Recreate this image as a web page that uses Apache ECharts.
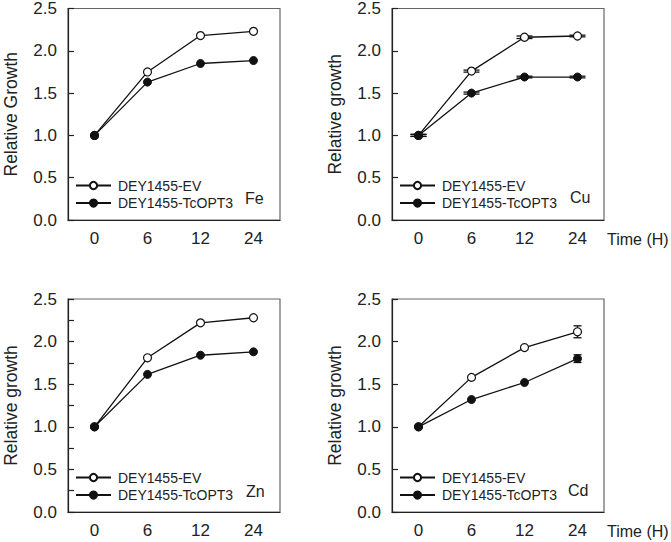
<!DOCTYPE html>
<html>
<head>
<meta charset="utf-8">
<script src="https://cdn.jsdelivr.net/npm/echarts@6/dist/echarts.min.js"></script>
<style>
html,body{margin:0;padding:0;background:#fff;}
#chart{width:671px;height:542px;}
</style>
</head>
<body>
<div id="chart"></div>
<script>
// ---- data ----
const categories = ['0', '6', '12', '24'];
const seriesNames = ['DEY1455-EV', 'DEY1455-TcOPT3'];
const panelLabels = ['Fe', 'Cu', 'Zn', 'Cd'];
const yTitles = ['Relative Growth', 'Relative growth', 'Relative growth', 'Relative growth'];

const feEV  = [1.0, 1.75, 2.18, 2.23];
const feOPT = [1.0, 1.63, 1.85, 1.885];
const cuEV  = [1.0, 1.76, 2.16, 2.175];
const cuOPT = [1.0, 1.50, 1.69, 1.69];
const znEV  = [1.0, 1.81, 2.22, 2.28];
const znOPT = [1.0, 1.615, 1.84, 1.88];
const cdEV  = [1.0, 1.58, 1.93, 2.115];
const cdOPT = [1.0, 1.32, 1.52, 1.80];

const cuEVErr  = [0.012, 0.012, 0.015, 0.01];
const cuOPTErr = [0.012, 0.012, 0.01, 0.01];
const cdEVErr  = [0, 0, 0, 0.07];
const cdOPTErr = [0, 0, 0, 0.045];

const yMin = 0, yMax = 2.5, yStep = 0.5;

// ---- layout ----
const FONT = '"Liberation Sans", Arial, sans-serif';
const TXT = '#222';
const grids = [
  {left: 68,  top: 7,   width: 212, height: 213},
  {left: 392, top: 7,   width: 212, height: 213},
  {left: 68,  top: 299, width: 212, height: 213},
  {left: 392, top: 299, width: 212, height: 213}
];
const panelData = [
  {ev: feEV, opt: feOPT, evErr: null, optErr: null, cap: 0, minor: false, time: false},
  {ev: cuEV, opt: cuOPT, evErr: cuEVErr, optErr: cuOPTErr, cap: 16, minor: false, time: true},
  {ev: znEV, opt: znOPT, evErr: null, optErr: null, cap: 0, minor: true, time: false},
  {ev: cdEV, opt: cdOPT, evErr: cdEVErr, optErr: cdOPTErr, cap: 8, minor: false, time: true}
];
const labelPos = [
  {left: 245, top: 190},
  {left: 570, top: 189},
  {left: 246, top: 483},
  {left: 568, top: 482}
];

function errRenderer(capW) {
  return function (params, api) {
    const x = api.value(0), lo = api.value(1), hi = api.value(2);
    if (hi - lo <= 0) return null;
    const p1 = api.coord([x, lo]), p2 = api.coord([x, hi]);
    const h = capW / 2;
    const st = {stroke: '#111', lineWidth: 1.3};
    return {type: 'group', children: [
      {type: 'line', shape: {x1: p1[0], y1: p1[1], x2: p2[0], y2: p2[1]}, style: st},
      {type: 'line', shape: {x1: p1[0] - h, y1: p1[1], x2: p1[0] + h, y2: p1[1]}, style: st},
      {type: 'line', shape: {x1: p2[0] - h, y1: p2[1], x2: p2[0] + h, y2: p2[1]}, style: st}
    ]};
  };
}

const option = {
  backgroundColor: '#fff',
  animation: false,
  grid: [], xAxis: [], yAxis: [], series: [], legend: [], title: []
};

grids.forEach((g, i) => {
  const p = panelData[i];
  option.grid.push(Object.assign({show: true, borderColor: '#666', borderWidth: 1.2, backgroundColor: 'transparent'}, g));
  option.xAxis.push({
    type: 'category', gridIndex: i, data: categories, boundaryGap: true,
    axisLine: {lineStyle: {color: '#222', width: 1.2}},
    axisTick: {inside: true, alignWithLabel: true, length: 7, lineStyle: {color: '#222', width: 1.2}},
    axisLabel: {margin: 10, fontSize: 17, color: TXT, fontFamily: FONT},
    splitLine: {show: false},
    name: p.time ? 'Time (H)' : '',
    nameLocation: 'end', nameGap: 3,
    nameTextStyle: {fontSize: 16, color: TXT, fontFamily: FONT, verticalAlign: 'top', padding: [11, 0, 0, 0]}
  });
  option.yAxis.push({
    type: 'value', gridIndex: i, min: yMin, max: yMax, interval: yStep,
    axisLine: {show: true, lineStyle: {color: '#222', width: 1.2}},
    axisTick: {show: true, inside: true, length: 6, lineStyle: {color: '#222', width: 1.2}},
    minorTick: {show: p.minor, splitNumber: 2, length: 6, lineStyle: {color: '#222', width: 1.2}},
    axisLabel: {margin: 11, fontSize: 17, color: TXT, fontFamily: FONT, formatter: v => v.toFixed(1)},
    splitLine: {show: false},
    name: yTitles[i], nameLocation: 'middle', nameGap: 49,
    nameTextStyle: {fontSize: 17.5, color: TXT, fontFamily: FONT, lineHeight: 17}
  });
  if (p.evErr) {
    option.series.push({
      type: 'custom', xAxisIndex: i, yAxisIndex: i, renderItem: errRenderer(p.cap),
      encode: {x: 0, y: [1, 2]}, silent: true,
      data: p.ev.map((v, k) => [k, v - p.evErr[k], v + p.evErr[k]])
    });
    option.series.push({
      type: 'custom', xAxisIndex: i, yAxisIndex: i, renderItem: errRenderer(p.cap),
      encode: {x: 0, y: [1, 2]}, silent: true,
      data: p.opt.map((v, k) => [k, v - p.optErr[k], v + p.optErr[k]])
    });
  }
  option.series.push({
    name: seriesNames[0], type: 'line', xAxisIndex: i, yAxisIndex: i, data: p.ev,
    symbol: 'circle', symbolSize: 8, showAllSymbol: true,
    lineStyle: {color: '#111', width: 1.3},
    itemStyle: {color: '#fff', borderColor: '#111', borderWidth: 1.2}
  });
  option.series.push({
    name: seriesNames[1], type: 'line', xAxisIndex: i, yAxisIndex: i, data: p.opt,
    symbol: 'circle', symbolSize: 8, showAllSymbol: true,
    lineStyle: {color: '#111', width: 1.3},
    itemStyle: {color: '#111', borderColor: '#111', borderWidth: 1}
  });
  option.legend.push({
    data: seriesNames, orient: 'vertical', left: g.left + 7, top: g.top + g.height - 41.5,
    padding: 0, itemGap: 3.6, itemWidth: 35, itemHeight: 9, selectedMode: false,
    textStyle: {fontSize: 14, color: TXT, fontFamily: FONT, lineHeight: 14, padding: [0, 0, 0, 2]}
  });
  option.title.push({
    text: panelLabels[i], left: labelPos[i].left, top: labelPos[i].top, padding: 0,
    textStyle: {fontSize: 16, fontWeight: 'normal', color: TXT, fontFamily: FONT}
  });
});

const chart = echarts.init(document.getElementById('chart'), null, {renderer: 'svg'});
chart.setOption(option);
</script>
</body>
</html>
